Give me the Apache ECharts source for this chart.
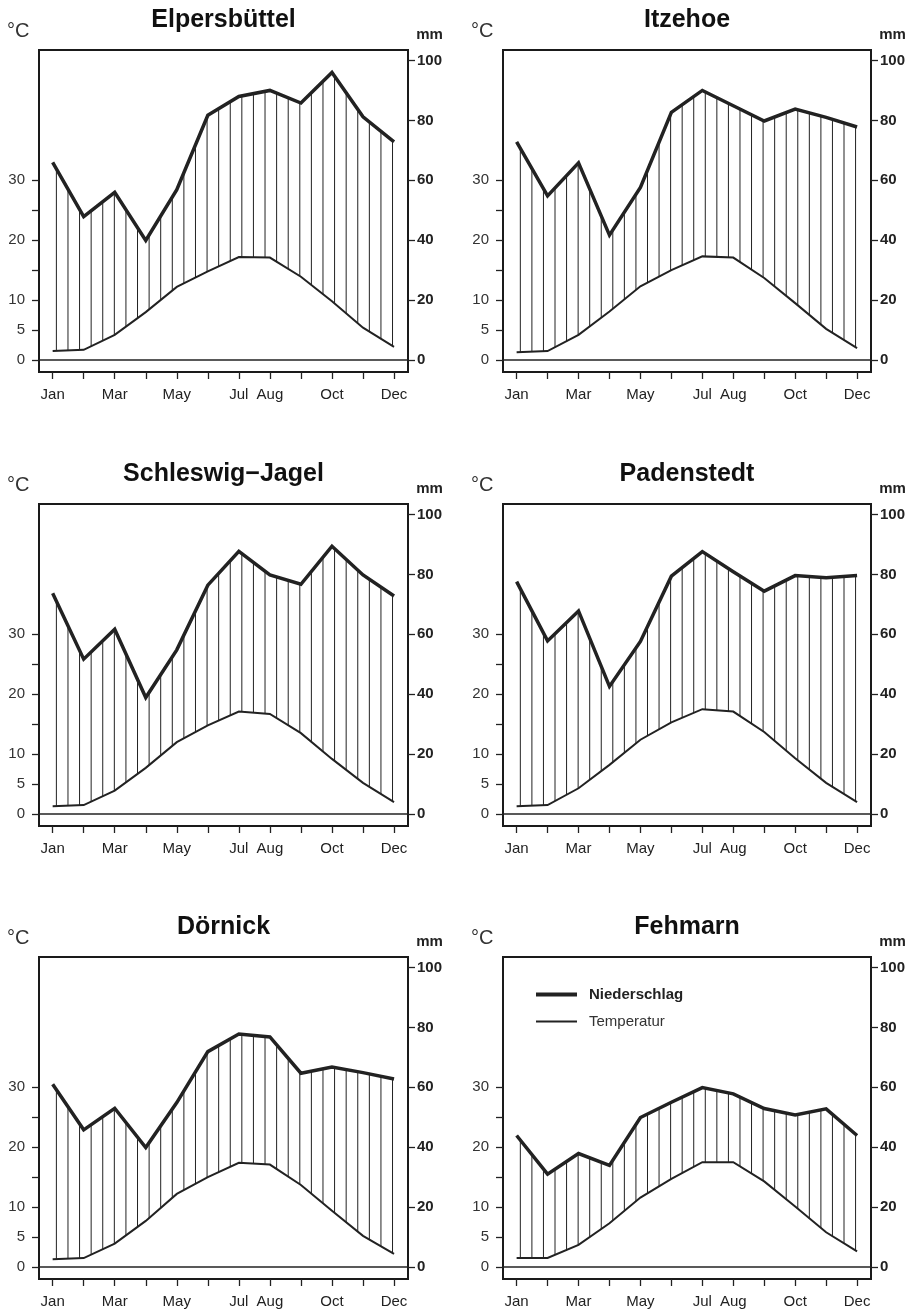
<!DOCTYPE html>
<html><head><meta charset="utf-8">
<script src="https://cdn.jsdelivr.net/npm/echarts@6/dist/echarts.min.js"></script>
<style>html,body{margin:0;padding:0;background:#fff}#c{width:915px;height:1313px}</style>
</head><body><div id="c"></div>
<script>
// ---------- data ----------
const stations = ['Elpersbüttel', 'Itzehoe', 'Schleswig\u2212Jagel', 'Padenstedt', 'Dörnick', 'Fehmarn'];
const months = ['Jan','Feb','Mar','Apr','May','Jun','Jul','Aug','Sep','Oct','Nov','Dec'];
const labeledMonths = ['Jan','Mar','May','Jul','Aug','Oct','Dec'];

const precipElpersbuettel = [66.0, 47.9, 56.0, 39.9, 56.9, 81.7, 88.0, 90.0, 85.8, 96.0, 81.2, 72.8];
const tempElpersbuettel   = [1.5, 1.7, 4.2, 8.0, 12.2, 14.8, 17.2, 17.1, 13.9, 9.8, 5.4, 2.2];
const precipItzehoe = [72.8, 54.8, 65.8, 41.7, 57.6, 82.7, 90.0, 84.9, 79.8, 83.8, 81.0, 77.8];
const tempItzehoe   = [1.3, 1.5, 4.2, 8.1, 12.3, 15.0, 17.3, 17.1, 13.7, 9.5, 5.2, 2.0];
const precipSchleswig = [73.7, 51.7, 61.7, 38.9, 54.8, 76.4, 87.7, 79.8, 76.7, 89.4, 79.8, 72.8];
const tempSchleswig   = [1.3, 1.5, 3.9, 7.7, 12.0, 14.8, 17.1, 16.7, 13.5, 9.2, 5.2, 2.0];
const precipPadenstedt = [77.6, 57.8, 67.8, 42.6, 57.6, 79.4, 87.6, 80.9, 74.4, 79.6, 78.9, 79.6];
const tempPadenstedt   = [1.3, 1.5, 4.3, 8.2, 12.4, 15.3, 17.5, 17.1, 13.7, 9.3, 5.2, 2.0];
const precipDoernick = [61.0, 45.8, 53.0, 39.9, 54.9, 71.9, 77.8, 76.8, 64.7, 66.8, 64.9, 62.8];
const tempDoernick   = [1.3, 1.5, 3.9, 7.7, 12.2, 15.0, 17.4, 17.1, 13.7, 9.4, 5.2, 2.2];
const precipFehmarn = [43.9, 31.0, 37.9, 33.9, 49.9, 55.0, 59.9, 57.8, 52.9, 50.8, 52.8, 43.9];
const tempFehmarn   = [1.5, 1.5, 3.7, 7.3, 11.6, 14.7, 17.5, 17.5, 14.3, 10.1, 5.8, 2.6];

const tempTicks = [0, 5, 10, 15, 20, 25, 30];
const tempTickLabels = [0, 5, 10, 20, 30];
const precipTicks = [0, 20, 40, 60, 80, 100];

const precipAll = [precipElpersbuettel, precipItzehoe, precipSchleswig, precipPadenstedt, precipDoernick, precipFehmarn];
const tempAll = [tempElpersbuettel, tempItzehoe, tempSchleswig, tempPadenstedt, tempDoernick, tempFehmarn];

// ---------- layout / style ----------
const FONT = '"Liberation Sans", Arial, Helvetica, sans-serif';
const INK = '#222';
const colLeft = [39, 503];
const colWidth = [369, 368];
const rowTop = [50, 504, 957];
const boxH = 322;
const MM_PER_DEG = 2;              // Walter-Lieth: 10 °C = 20 mm
const mmMin = -4, mmMax = 103.5;
// hatch spacing (pattern style)
const hatchStart = 0.12, hatchStep = 0.3735, hatchCount = 30;
const hatchX = Array.from({length: hatchCount}, (_, k) => hatchStart + k * hatchStep);

function interp(arr, x) {
  const i = Math.min(Math.floor(x), arr.length - 2);
  const f = x - i;
  return arr[i] + (arr[i + 1] - arr[i]) * f;
}

const grids = [], xAxes = [], yAxes = [], series = [], graphics = [];
const tickStyle = {color: INK, width: 1.3};

stations.forEach((name, i) => {
  const col = i % 2, row = Math.floor(i / 2);
  const left = colLeft[col], top = rowTop[row], w = colWidth[col];
  grids.push({left: left, top: top, width: w, height: boxH, show: true,
    borderColor: '#1a1a1a', borderWidth: 2, backgroundColor: 'transparent',
    containLabel: false, outerBoundsMode: 'none'});
  xAxes.push({gridIndex: i, type: 'value', min: -0.44, max: 11.45, position: 'bottom',
    axisLine: {show: false, onZero: false}, splitLine: {show: false},
    axisTick: {show: true, customValues: months.map((m, k) => k), length: 7, lineStyle: tickStyle},
    axisLabel: {customValues: labeledMonths.map(m => months.indexOf(m)),
      formatter: v => months[Math.round(v)], margin: 15, fontSize: 15, color: INK, fontFamily: FONT}});
  yAxes.push({gridIndex: i, type: 'value', position: 'left', min: mmMin / MM_PER_DEG, max: mmMax / MM_PER_DEG,
    axisLine: {show: false, onZero: false}, splitLine: {show: false},
    axisTick: {show: true, inside: false, customValues: tempTicks, length: 7, lineStyle: tickStyle},
    axisLabel: {customValues: tempTickLabels, margin: 14, fontSize: 15, color: '#333', fontFamily: FONT}});
  yAxes.push({gridIndex: i, type: 'value', position: 'right', min: mmMin, max: mmMax,
    axisLine: {show: false, onZero: false}, splitLine: {show: false},
    axisTick: {show: true, inside: false, customValues: precipTicks, length: 7, lineStyle: tickStyle},
    axisLabel: {customValues: precipTicks, margin: 9, fontSize: 15, fontWeight: 'bold', color: INK, fontFamily: FONT}});

  const P = precipAll[i], T = tempAll[i];
  series.push({type: 'custom', xAxisIndex: i, yAxisIndex: 2 * i + 1, silent: true,
    data: hatchX.map(x => [x, interp(T, x) * MM_PER_DEG, interp(P, x)]),
    renderItem: (params, api) => {
      const a = api.coord([api.value(0), api.value(1)]);
      const b = api.coord([api.value(0), api.value(2)]);
      return {type: 'line', shape: {x1: a[0], y1: a[1], x2: b[0], y2: b[1]},
        style: {stroke: INK, lineWidth: 1}};
    }});
  series.push({type: 'line', name: 'Temperatur', xAxisIndex: i, yAxisIndex: 2 * i,
    data: T.map((t, k) => [k, t]), symbol: 'none', silent: true,
    lineStyle: {color: INK, width: 2, join: 'miter'}, itemStyle: {color: INK},
    markLine: {silent: true, symbol: 'none', label: {show: false},
      lineStyle: {color: INK, width: 1.5, type: 'solid'}, data: [{yAxis: 0}]}});
  series.push({type: 'line', name: 'Niederschlag', xAxisIndex: i, yAxisIndex: 2 * i + 1,
    data: P.map((p, k) => [k, p]), symbol: 'none', silent: true,
    lineStyle: {color: INK, width: 3.5, join: 'miter'}, itemStyle: {color: INK}});

  const cx = left + w / 2;
  graphics.push({type: 'text', x: cx, y: top - 29.5, style: {text: name, align: 'center', verticalAlign: 'middle',
    font: 'bold 25px ' + FONT, fill: '#111'}});
  graphics.push({type: 'text', x: left - 32, y: top - 18.5, style: {text: '°C', align: 'left', verticalAlign: 'middle',
    font: '20px ' + FONT, fill: '#333'}});
  graphics.push({type: 'text', x: left + w + 21.5, y: top - 15, style: {text: 'mm', align: 'center', verticalAlign: 'middle',
    font: 'bold 15px ' + FONT, fill: INK}});
});

const chart = echarts.init(document.getElementById('c'), null, {renderer: 'canvas'});
chart.setOption({
  animation: false,
  backgroundColor: '#fff',
  textStyle: {fontFamily: FONT},
  grid: grids, xAxis: xAxes, yAxis: yAxes, series: series,
  legend: {data: [{name: 'Niederschlag', icon: 'path://M0,0H41V4H0Z', textStyle: {fontWeight: 'bold', color: INK}},
                  {name: 'Temperatur', icon: 'path://M0,0H41V2H0Z', textStyle: {color: '#333'}}],
    orient: 'vertical', left: 531, top: 982, itemWidth: 41, itemHeight: 14, itemGap: 12,
    selectedMode: false, itemStyle: {color: INK, borderWidth: 0},
    textStyle: {fontSize: 15, fontFamily: FONT, padding: [0, 0, 0, 7]}},
  graphic: graphics
});
</script></body></html>
